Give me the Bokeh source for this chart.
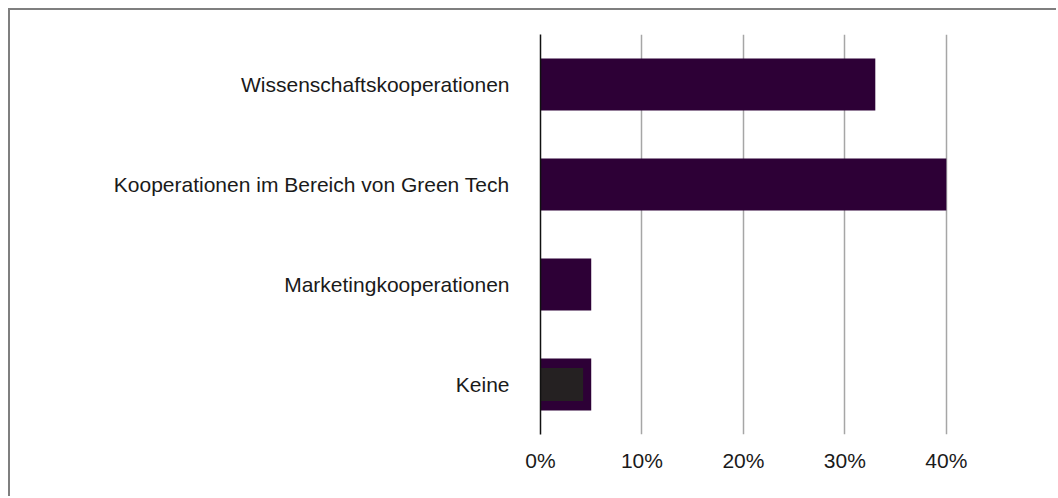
from bokeh.plotting import figure
from bokeh.models import FactorRange, Range1d, FixedTicker, ColumnDataSource
from bokeh.embed import file_html
from bokeh.resources import INLINE

categories = ["Wissenschaftskooperationen",
              "Kooperationen im Bereich von Green Tech",
              "Marketingkooperationen",
              "Keine"]
values = [33.0, 40.0, 5.0, 5.0]
inner_categories = ["Keine"]
inner_values = [4.2]
tick_values = [0, 10, 20, 30, 40]
tick_labels = ["0%", "10%", "20%", "30%", "40%"]

FONT = "Liberation Sans"

p = figure(width=1048, height=488,
           y_range=FactorRange(*list(reversed(categories)), range_padding=0),
           x_range=Range1d(0, 48.1),
           output_backend="svg", toolbar_location=None,
           min_border_left=530, min_border_right=30,
           min_border_top=24, min_border_bottom=64)
p.styles = {"margin-left": "8px", "margin-top": "8px",
            "border-top": "2px solid #7f7f7f", "border-left": "2px solid #7f7f7f"}
p.outline_line_color = None
p.background_fill_color = "white"

src = ColumnDataSource(dict(cat=categories, val=values))
p.hbar(y="cat", right="val", left=0, height=0.52, source=src,
       fill_color="#2d0036", line_color=None)
src2 = ColumnDataSource(dict(cat=inner_categories, val=inner_values))
p.hbar(y="cat", right="val", left=0, height=0.33, source=src2,
       fill_color="#252122", line_color=None)

p.xaxis.ticker = FixedTicker(ticks=tick_values)
p.xaxis.major_label_overrides = {t: l for t, l in zip(tick_values, tick_labels)}
p.xaxis.axis_line_color = None
p.xaxis.major_tick_line_color = None
p.xaxis.minor_tick_line_color = None
p.xaxis.major_tick_out = 0
p.xaxis.major_label_standoff = 14
p.xaxis.major_label_text_font = FONT
p.xaxis.major_label_text_font_size = "21px"
p.xaxis.major_label_text_color = "#1a1a1a"

p.yaxis.axis_line_color = "#111111"
p.yaxis.axis_line_width = 1.5
p.yaxis.major_tick_line_color = None
p.yaxis.minor_tick_line_color = None
p.yaxis.major_tick_out = 0
p.yaxis.major_label_standoff = 31
p.yaxis.major_label_text_font = FONT
p.yaxis.major_label_text_font_size = "21px"
p.yaxis.major_label_text_color = "#1a1a1a"

p.xgrid.grid_line_color = "#a6a6a6"
p.xgrid.grid_line_width = 1.5
p.ygrid.grid_line_color = None

open("out.html", "w").write(file_html(p, INLINE))
